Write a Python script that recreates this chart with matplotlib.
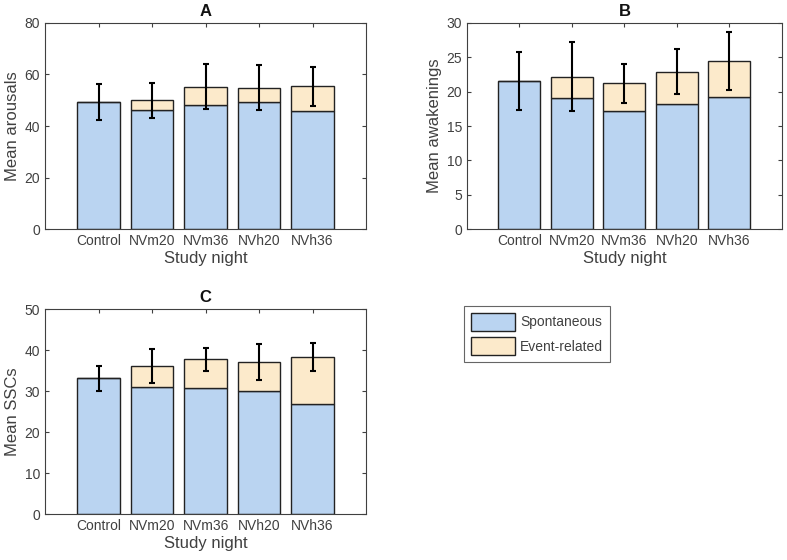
import numpy as np
import matplotlib.pyplot as plt
from matplotlib.patches import Patch

plt.rcParams['font.family'] = ['Liberation Sans', 'DejaVu Sans']

nights = ['Control', 'NVm20', 'NVm36', 'NVh20', 'NVh36']

# panel A: arousals
arousal_spont = [49.4, 46.1, 48.3, 49.5, 45.7]
arousal_event = [0.0, 3.9, 7.0, 5.3, 9.7]
arousal_err = [6.9, 6.8, 8.6, 8.7, 7.6]

# panel B: awakenings
awak_spont = [21.5, 19.1, 17.2, 18.2, 19.2]
awak_event = [0.0, 3.1, 4.0, 4.7, 5.3]
awak_err = [4.2, 5.0, 2.8, 3.3, 4.25]

# panel C: SSCs
ssc_spont = [33.1, 30.9, 30.7, 29.9, 26.9]
ssc_event = [0.0, 5.3, 7.0, 7.2, 11.4]
ssc_err = [3.05, 4.15, 2.9, 4.4, 3.3]

blue = '#BAD4F1'
beige = '#FCEACB'
edge = '#222222'
axc = '#404040'

fig = plt.figure(figsize=(7.87, 5.6), dpi=100)


def panel(rect, spont, event, err, ylabel, title, ymax, step):
    ax = fig.add_axes(rect)
    x = np.arange(1, len(nights) + 1)
    spont = np.array(spont)
    event = np.array(event)
    ax.bar(x, spont, width=0.8, color=blue, edgecolor=edge, linewidth=1.0, zorder=2)
    ax.bar(x, event, width=0.8, bottom=spont, color=beige, edgecolor=edge, linewidth=1.0, zorder=2)
    ax.errorbar(x, spont + event, yerr=err, fmt='none', ecolor='black', elinewidth=1.5,
                capsize=2.3, capthick=1.5, zorder=3)
    ax.set_xlim(0, 6)
    ax.set_ylim(0, ymax)
    ax.set_xticks(x)
    ax.set_xticklabels(nights)
    ax.set_yticks(np.arange(0, ymax + 0.1, step))
    ax.tick_params(direction='in', length=3, width=0.8, top=True, right=True,
                   labelsize=10, colors=axc)
    for s in ax.spines.values():
        s.set_color(axc)
        s.set_linewidth(0.8)
    ax.set_xlabel('Study night', fontsize=12, color=axc, labelpad=2)
    ax.set_ylabel(ylabel, fontsize=12, color=axc, labelpad=3)
    ax.set_title(title, fontsize=12, fontweight='bold', pad=5, color='#111111')
    return ax


panel([0.0572, 0.591, 0.408, 0.368], arousal_spont, arousal_event, arousal_err,
      'Mean arousals', 'A', 80, 20)
panel([0.5934, 0.591, 0.400, 0.368], awak_spont, awak_event, awak_err,
      'Mean awakenings', 'B', 30, 5)
panel([0.0572, 0.0821, 0.408, 0.366], ssc_spont, ssc_event, ssc_err,
      'Mean SSCs', 'C', 50, 10)

handles = [Patch(facecolor=blue, edgecolor=edge, label='Spontaneous'),
           Patch(facecolor=beige, edgecolor=edge, label='Event-related')]
leg = fig.legend(handles=handles, loc='upper left', bbox_to_anchor=(464 / 787, 1 - 306 / 560),
                 borderaxespad=0, fontsize=10, frameon=True, fancybox=False,
                 handlelength=3.2, handleheight=1.6, borderpad=0.5, labelspacing=0.45,
                 handletextpad=0.35, labelcolor=axc)
leg.get_frame().set_edgecolor(axc)
leg.get_frame().set_linewidth(0.8)

fig.savefig('out.png', dpi=100)
